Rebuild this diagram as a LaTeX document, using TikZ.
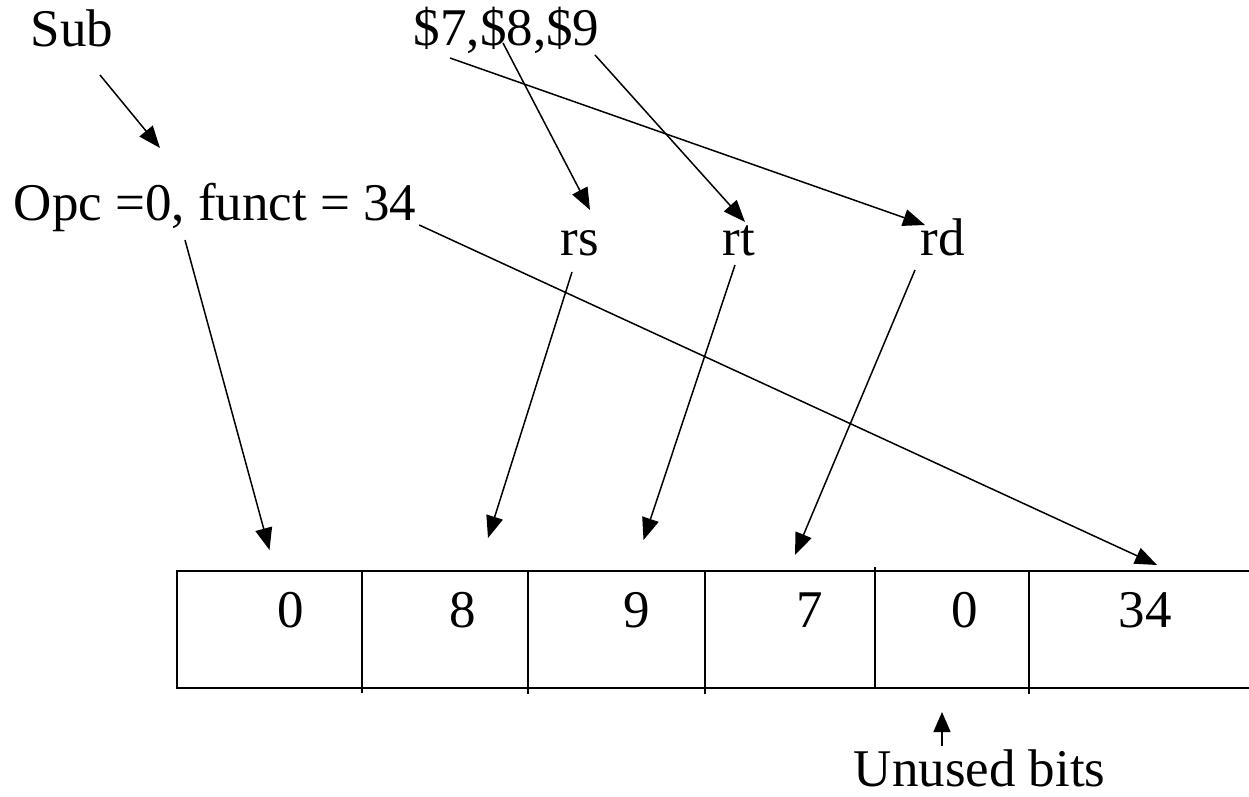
\documentclass[tikz,border=0pt]{standalone}
\usepackage{fontspec}
\setmainfont{Liberation Serif}
\usetikzlibrary{calc,positioning,arrows.meta}

\begin{document}
\begin{tikzpicture}[x=1pt,y=-1pt,line width=1.5pt,
    txt/.style={inner sep=0pt,font=\fontsize{53}{60}\selectfont},
    cell/.style={draw,inner sep=0pt,outer sep=0pt,minimum height=117pt},
    arr/.style={-{Triangle[length=22pt,width=17pt]}}]
  \useasboundingbox (0,0) rectangle (1249,797);

  % instruction and operands
  \node[txt,anchor=base west] (sub) at (30,47) {Sub};
  \node[txt,anchor=base west] (regs) at (413,46) {\$7,\$8,\$9};
  \node[txt,anchor=base west] (opc) at (13,220) {Opc =0, funct = 34};
  \node[txt,anchor=base west] (rs) at (560,255) {rs};
  \node[txt,anchor=base west] (rt) at (722,255) {rt};
  \node[txt,anchor=base west] (rd) at (920,255) {rd};

  % the instruction word
  \node[cell,minimum width=185pt] (c0) at (269.5,629.5) {};
  \node[cell,minimum width=166pt,right=0pt of c0] (c8) {};
  \node[cell,minimum width=177pt,right=0pt of c8] (c9) {};
  \node[cell,minimum width=170pt,right=0pt of c9] (c7) {};
  \node[cell,minimum width=154pt,right=0pt of c7] (cu) {};
  \node[cell,minimum width=230pt,right=0pt of cu] (c34) {};
  \draw (c8.south west) -- ++(0,5);
  \draw (c9.south west) -- ++(0,6);
  \draw (c7.south west) -- ++(0,6);
  \draw (cu.north west) -- ++(0,-4);
  \draw (c34.south west) -- ++(0,6);

  \node[txt,anchor=base] (v0) at ($(c0.south)+(21,-61)$) {0};
  \node[txt,anchor=base] (v8) at ($(c8.south)+(18,-61)$) {8};
  \node[txt,anchor=base] (v9) at ($(c9.south)+(20,-61)$) {9};
  \node[txt,anchor=base] (v7) at ($(c7.south)+(20,-61)$) {7};
  \node[txt,anchor=base] (vu) at ($(cu.south)+(13,-61)$) {0};
  \node[txt,anchor=base] (v34) at ($(c34.south)+(1,-61)$) {34};

  \node[txt,anchor=base west] (unused) at (853,786) {Unused bits};

  % arrows
  \draw[arr] ($(sub.base west)+(70,28)$) -- ($(opc.base west)+(147,-72)$);
  \draw[arr] ($(regs.base west)+(90,-3)$) -- ($(rs.base west)+(30,-45)$);
  \draw[arr] ($(regs.base east)+(-5,9)$) -- ($(rt.base west)+(23,-33)$);
  \draw[arr] ($(regs.base west)+(37,12)$) -- ($(rd.base west)+(5,-30)$);

  \draw[arr] ($(opc.base west)+(172,20)$) -- ($(c0.north)+(0,-21)$);
  \draw[arr] ($(opc.base east)+(2,5)$) -- ($(c34.north)+(13,-6)$);
  \draw[arr] ($(rs.base west)+(12,17)$) -- ($(c8.north)+(43,-33)$);
  \draw[arr] ($(rt.base west)+(13,10)$) -- ($(c9.north)+(27,-31)$);
  \draw[arr] ($(rd.base west)+(-5,15)$) -- ($(c7.north)+(5,-16)$);

  \draw[-{Triangle[length=20pt,width=17pt]}] ($(unused.north west)+(89,-2)$) -- ($(cu.south)+(-10,24)$);
\end{tikzpicture}
\end{document}
